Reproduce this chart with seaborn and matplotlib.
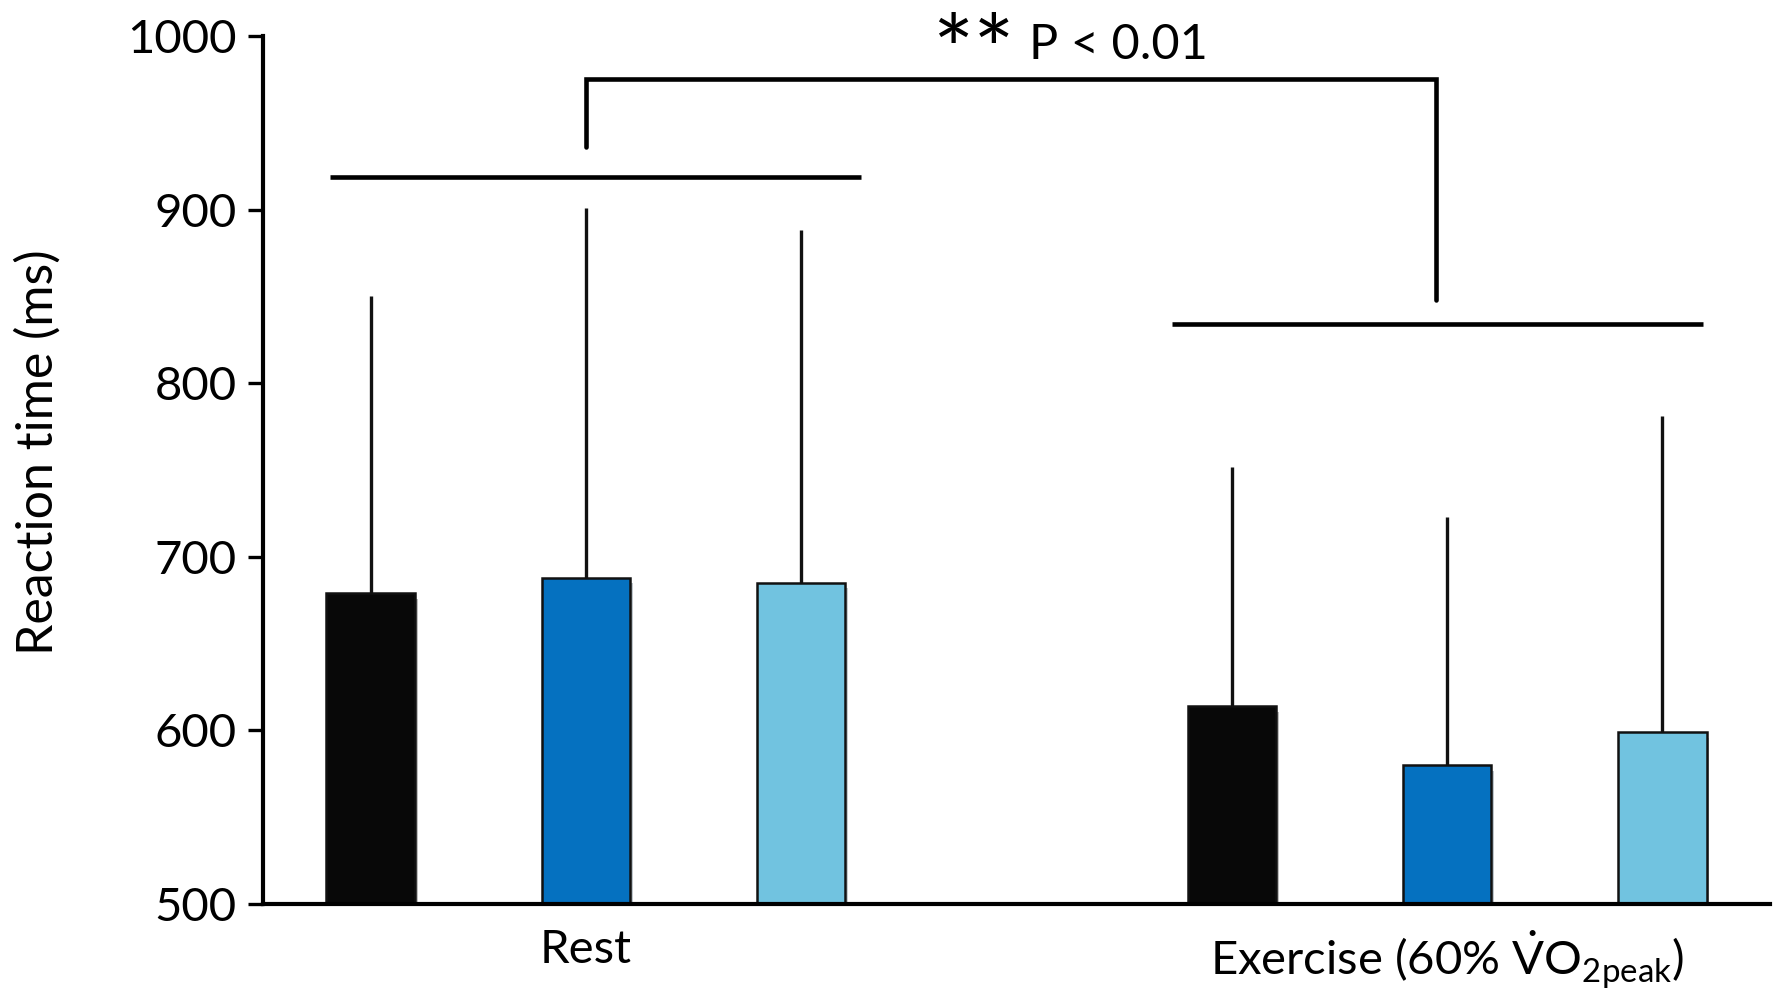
import numpy as np
import pandas as pd
import matplotlib
matplotlib.use("Agg")
import matplotlib.pyplot as plt
import matplotlib.patheffects as pe
import seaborn as sns

# ---- data ----
groups = ["Rest", "Exercise (60% $\\dot{\\mathrm{V}}$O$_{2\\mathrm{peak}}$)"]
conditions = ["Cond A", "Cond B", "Cond C"]
rest_mean = [679, 688, 685]
rest_sd = [171, 213, 203]
ex_mean = [614, 580, 599]
ex_sd = [138, 143, 182]
bar_colors = ["#080808", "#0571C0", "#71C3E0"]
yticks = [500, 600, 700, 800, 900, 1000]

sns.set_theme(style="white")
plt.rcParams["font.family"] = ["Lato", "DejaVu Sans"]
plt.rcParams["mathtext.fontset"] = "custom"
plt.rcParams["mathtext.rm"] = "Lato"
plt.rcParams["mathtext.it"] = "Lato:italic"
plt.rcParams["mathtext.bf"] = "Lato:bold"

means = rest_mean + ex_mean
sds = rest_sd + ex_sd
pos = [g * 4 + c for g in range(2) for c in range(3)]
df = pd.DataFrame({
    "pos": pos,
    "rt": means,
    "sd": sds,
    "cond": conditions * 2,
})

fig = plt.figure(figsize=(17.79, 9.89), dpi=100)
ax = fig.add_axes([0.1478, 0.086, 0.995 - 0.1478, 0.9636 - 0.086])

# error bars (upper only)
ax.vlines(df["pos"], df["rt"], df["rt"] + df["sd"], color="#111111", lw=2.4, zorder=1)

sns.barplot(data=df, x="pos", y="rt", hue="cond", palette=bar_colors, saturation=1,
            native_scale=True, width=0.41, dodge=False, legend=False,
            edgecolor="#111111", linewidth=1.8, ax=ax, zorder=2)
for p in ax.patches:
    p.set_path_effects([pe.SimplePatchShadow(offset=(2, -4), alpha=0.25), pe.Normal()])

ax.set_ylim(500, 1000)
ax.set_xlim(-0.5, 6.5)
ax.set_yticks(yticks)
ax.set_xticks([1, 5])
ax.set_xticklabels(groups)
ax.tick_params(axis="y", labelsize=34, length=11, width=2.4, direction="out", left=True, pad=8, colors="black")
ax.tick_params(axis="x", labelsize=34, length=0, pad=18, colors="black")
for lbl in ax.get_yticklabels() + ax.get_xticklabels():
    lbl.set_color("black")
ax.set_xlabel("")
ax.set_ylabel("Reaction time (ms)", fontsize=36, color="black", va="center")
ax.yaxis.set_label_coords(-0.149, 0.52)

for s in ["top", "right"]:
    ax.spines[s].set_visible(False)
for s in ["left", "bottom"]:
    ax.spines[s].set_linewidth(3)
    ax.spines[s].set_color("black")

# significance annotations
lw = 3.3
ax.plot([-0.19, 2.28], [919, 919], color="black", lw=lw, clip_on=False, solid_capstyle="butt")
ax.plot([3.72, 6.19], [834, 834], color="black", lw=lw, clip_on=False, solid_capstyle="butt")
ax.plot([1.0, 1.0, 4.95, 4.95], [936, 975, 975, 848], color="black", lw=lw,
        clip_on=False, solid_joinstyle="miter")
ax.text(2.80, 972, "**", fontsize=70, ha="center", va="baseline", color="black", clip_on=False)
ax.text(3.06, 995, "P < 0.01", fontsize=35, ha="left", va="center", color="black", clip_on=False)

fig.savefig("out.png", dpi=100, facecolor="white")
